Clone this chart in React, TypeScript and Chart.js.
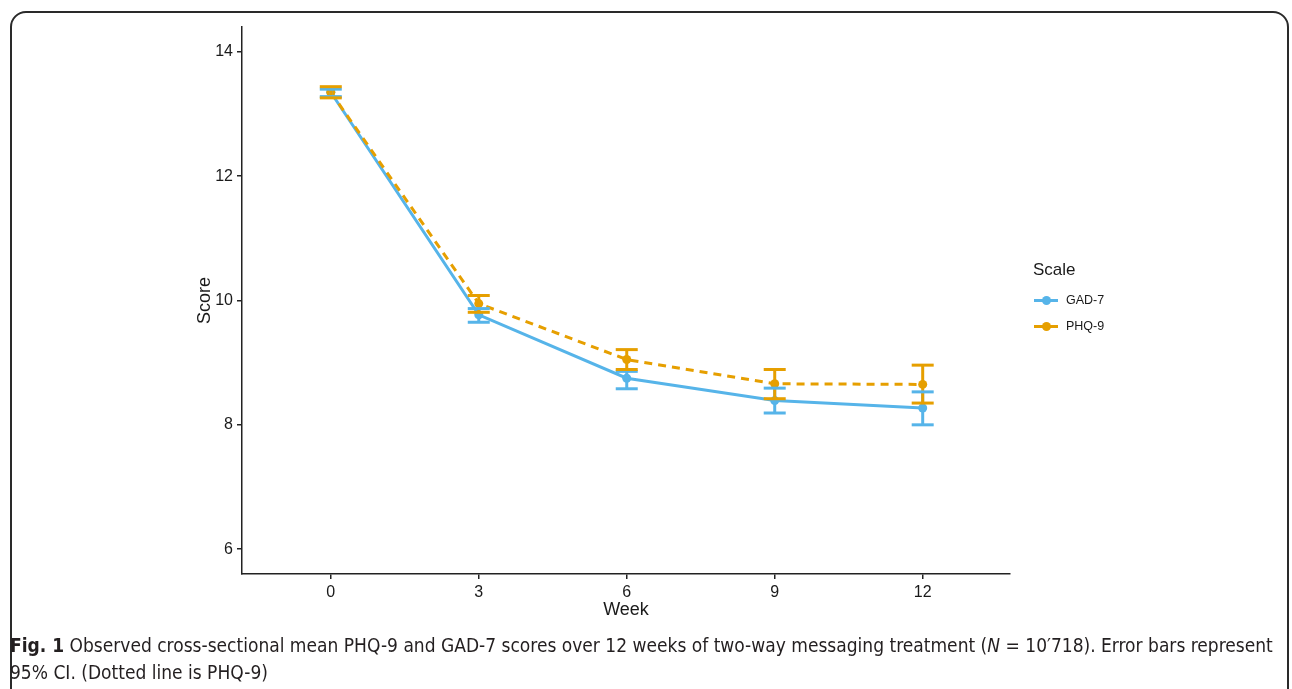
import React, { useEffect, useRef } from "react";
import { Chart, registerables } from "chart.js";

Chart.register(...registerables);

const weeks = [0, 3, 6, 9, 12];
const gadMean = [13.35, 9.77, 8.75, 8.39, 8.27];
const gadLow = [13.28, 9.65, 8.58, 8.19, 8.0];
const gadHigh = [13.4, 9.87, 8.86, 8.59, 8.53];
const phqMean = [13.35, 9.95, 9.05, 8.66, 8.65];
const phqLow = [13.26, 9.81, 8.89, 8.42, 8.35];
const phqHigh = [13.44, 10.08, 9.21, 8.89, 8.96];
const xTicks = [0, 3, 6, 9, 12];
const yTicks = [6, 8, 10, 12, 14];
const seriesNames = ["GAD-7", "PHQ-9"];

const BLUE = "#56B4E9";
const ORANGE = "#E69F00";
const INK = "#1a1a1a";
const FONT = "'Liberation Sans', Arial, sans-serif";
const CAPTION_FONT = "'Liberation Sans Narrow', 'DejaVu Sans Condensed', 'Open Sans', sans-serif";

const errorBarPlugin = {
  id: "errorBars",
  afterDatasetsDraw(chart: any) {
    const { ctx, scales } = chart;
    const x = scales.x;
    const y = scales.y;
    const sets = [
      { low: gadLow, high: gadHigh, color: BLUE },
      { low: phqLow, high: phqHigh, color: ORANGE },
    ];
    ctx.save();
    ctx.lineWidth = 3;
    ctx.lineCap = "butt";
    sets.forEach((s) => {
      ctx.strokeStyle = s.color;
      weeks.forEach((w, i) => {
        const px = x.getPixelForValue(w);
        ctx.beginPath();
        ctx.moveTo(px, y.getPixelForValue(s.low[i]));
        ctx.lineTo(px, y.getPixelForValue(s.high[i]));
        ctx.stroke();
      });
    });
    sets.forEach((s) => {
      ctx.strokeStyle = s.color;
      weeks.forEach((w, i) => {
        const px = x.getPixelForValue(w);
        [s.low[i], s.high[i]].forEach((v) => {
          const py = y.getPixelForValue(v);
          ctx.beginPath();
          ctx.moveTo(px - 11, py);
          ctx.lineTo(px + 11, py);
          ctx.stroke();
        });
      });
    });
    ctx.restore();
  },
};

export default function App() {
  const ref = useRef<HTMLCanvasElement | null>(null);

  useEffect(() => {
    if (!ref.current) return;
    const chart = new Chart(ref.current, {
      type: "line",
      data: {
        datasets: [
          {
            label: seriesNames[0],
            data: weeks.map((w, i) => ({ x: w, y: gadMean[i] })),
            borderColor: BLUE,
            backgroundColor: BLUE,
            borderWidth: 3,
            pointRadius: 4.5,
            pointBorderWidth: 0,
            pointBackgroundColor: BLUE,
            tension: 0,
            order: 1,
          },
          {
            label: seriesNames[1],
            data: weeks.map((w, i) => ({ x: w, y: phqMean[i] })),
            borderColor: ORANGE,
            backgroundColor: ORANGE,
            borderWidth: 3,
            borderDash: [8, 6],
            pointRadius: 4.5,
            pointBorderWidth: 0,
            pointBackgroundColor: ORANGE,
            tension: 0,
            order: 0,
          },
        ],
      },
      options: {
        animation: false,
        responsive: false,
        layout: { padding: { left: 194, top: 27, right: 282, bottom: 20 } },
        plugins: { legend: { display: false }, tooltip: { enabled: false } },
        scales: {
          x: {
            type: "linear",
            min: -1.8,
            max: 13.77,
            afterBuildTicks: (s: any) => {
              s.ticks = xTicks.map((v) => ({ value: v }));
            },
            afterFit: (s: any) => {
              s.height = 47;
            },
            grid: { display: true, drawOnChartArea: false, drawTicks: true, tickLength: 5, color: "#222", lineWidth: 1.5 },
            border: { display: true, color: "#222", width: 1.5 },
            ticks: { font: { family: FONT, size: 16 }, color: INK, padding: 4, maxRotation: 0, autoSkip: false },
            title: { display: true, text: "Week", font: { family: FONT, size: 18 }, color: INK, padding: 0 },
          },
          y: {
            type: "linear",
            min: 5.6,
            max: 14.4,
            afterBuildTicks: (s: any) => {
              s.ticks = yTicks.map((v) => ({ value: v }));
            },
            afterFit: (s: any) => {
              s.width = 48;
            },
            grid: { display: true, drawOnChartArea: false, drawTicks: true, tickLength: 5, color: "#222", lineWidth: 1.5 },
            border: { display: true, color: "#222", width: 1.5 },
            ticks: { font: { family: FONT, size: 16 }, color: INK, padding: 4, autoSkip: false },
            title: { display: true, text: "Score", font: { family: FONT, size: 18 }, color: INK, padding: 0 },
          },
        },
      },
      plugins: [errorBarPlugin],
    });
    return () => chart.destroy();
  }, []);

  const legendRow = (name: string, color: string, top: number) => (
    <div key={name} style={{ position: "absolute", left: 1034, top: top - 10, height: 20, width: 120 }}>
      <div style={{ position: "absolute", left: 0, top: 8.5, width: 24, height: 3, background: color }} />
      <div style={{ position: "absolute", left: 7.5, top: 5.5, width: 9, height: 9, borderRadius: "50%", background: color }} />
      <div style={{ position: "absolute", left: 32, top: 0, lineHeight: "20px", fontSize: 12.5, fontFamily: FONT, color: INK }}>{name}</div>
    </div>
  );

  return (
    <div style={{ position: "absolute", left: 0, top: 0, width: 1292, height: 689, overflow: "hidden", background: "#fff" }}>
      <div
        style={{
          position: "absolute",
          left: 10,
          top: 11,
          width: 1279,
          height: 760,
          border: "2px solid #2a2a2a",
          borderRadius: 16,
          boxSizing: "border-box",
        }}
      />
      <canvas ref={ref} width={1292} height={641} style={{ position: "absolute", left: 0, top: 0 }} />
      <div style={{ position: "absolute", left: 1033, top: 258, lineHeight: "24px", fontSize: 17, fontFamily: FONT, color: INK }}>Scale</div>
      {legendRow(seriesNames[0], BLUE, 300)}
      {legendRow(seriesNames[1], ORANGE, 326)}
      <div
        style={{
          position: "absolute",
          left: 10,
          top: 632,
          width: 1280,
          fontFamily: CAPTION_FONT,
          fontSize: 19,
          lineHeight: "27px",
          color: "#231f20",
          whiteSpace: "nowrap",
        }}
      >
        <b>Fig. 1</b> Observed cross-sectional mean PHQ-9 and GAD-7 scores over 12 weeks of two-way messaging treatment (<i>N</i> = 10′718). Error bars represent
        <br />
        95% CI. (Dotted line is PHQ-9)
      </div>
    </div>
  );
}
